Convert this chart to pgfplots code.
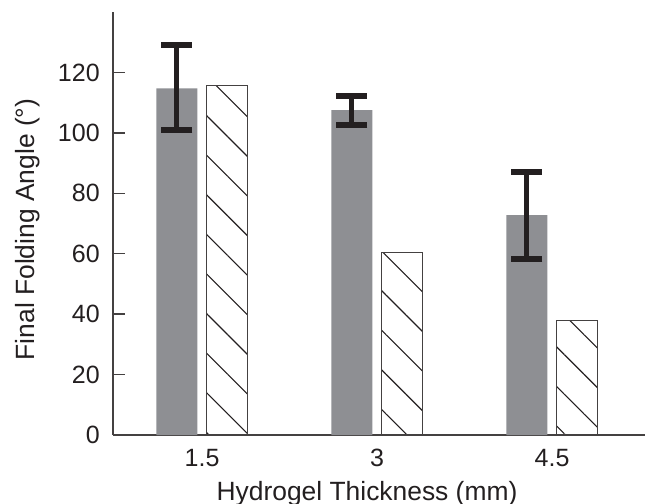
\documentclass[border=0pt]{standalone}
\usepackage{fontspec}
\setmainfont{Liberation Sans}
\usepackage{pgfplots}
\pgfplotsset{compat=1.18}
\usetikzlibrary{patterns.meta}
\definecolor{bargrey}{RGB}{142,143,147}
\definecolor{ink}{RGB}{35,31,32}
\begin{document}
\fontsize{12.5}{15}\selectfont
\begin{tikzpicture}
\begin{axis}[
  scale only axis, width=266pt, height=211.5pt,
  xmin=-0.509, xmax=2.531, ymin=0, ymax=140,
  axis x line=bottom, axis y line=left,
  axis line style={-, line width=0.75pt, color=ink!85},
  xtick={0,1,2}, xticklabels={1.5,3,4.5},
  x tick style={draw=none},
  ytick={0,20,...,120},
  y tick style={line width=0.75pt, color=ink!85},
  tick align=inside, major tick length=6pt,
  /pgf/number format/assume math mode=true,
  tick label style={font=\fontsize{12.5}{15}\selectfont, text=ink},
  xticklabel style={anchor=base, yshift=-15.5pt},
  yticklabel style={xshift=-2.3pt},
  label style={font=\fontsize{13.2}{16}\selectfont, text=ink},
  xlabel={Hydrogel Thickness (mm)},
  ylabel={Final Folding Angle (°)},
  xlabel style={at={(axis description cs:0.5,0)}, anchor=base, yshift=-32.5pt, xshift=-6pt},
  ylabel style={at={(axis description cs:0,0.5)}, anchor=center, yshift=42.5pt, xshift=-3pt},
  clip=false,
]
\coordinate (A) at (rel axis cs:0,0);
\coordinate (B) at (rel axis cs:1,1);
\addplot[ybar, bar width=20.5pt, bar shift=0pt, fill=bargrey, draw=none,
  error bars/.cd, y dir=both, y explicit,
  error bar style={line width=2.5pt, color=ink},
  error mark options={rotate=90, mark size=7.75pt, line width=3pt, color=ink}]
  table[x=x, y=y, y error plus=ep, y error minus=em] {
  x y ep em
  -0.1443 114.7 14.3 13.9
  0.8557 107.5 4.6 4.9
  1.8557 72.8 14.2 14.6
  };
\addplot[ybar, bar width=20.5pt, bar shift=0pt, draw=ink!85, line width=0.6pt,
  pattern={Lines[angle=-45,distance=14pt,line width=0.55pt]}, pattern color=ink]
  coordinates {(0.1443,115.8) (1.1443,60.3) (2.1443,38)};
\end{axis}
\pgfresetboundingbox
\path ([shift={(-56.5pt,-34pt)}]A) rectangle ([shift={(0.5pt,6pt)}]B);
\end{tikzpicture}
\end{document}
